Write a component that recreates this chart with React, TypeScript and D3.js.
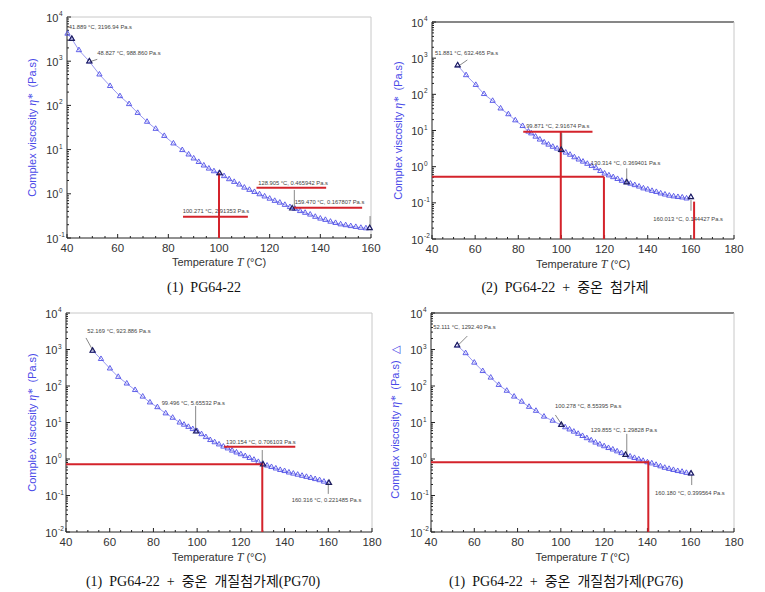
import React from 'react';
import * as d3 from 'd3';

// ---------- DATA ----------
const temps1 = [40.2, 41.9, 44.7, 48.8, 52.8, 57, 60.9, 64.5, 67.9, 71.6, 75, 78.4, 82, 85.5,
  88, 90, 92, 94, 96, 98, 100, 102, 104, 106, 108, 110, 112, 114, 116, 118, 120, 122, 124, 126, 128,
  130, 132, 134, 136, 138, 140, 142, 144, 146, 148, 150, 152, 154, 156, 158, 159.5];
const visc1 = [4200, 3197, 1778, 989, 501, 275, 162, 107, 67.6, 42.7, 29.5, 20.4, 13.8, 9.77,
  7.76, 6.31, 5.25, 4.37, 3.72, 3.24, 2.91, 2.51, 2.14, 1.86, 1.62, 1.38, 1.23, 1.10, 0.977, 0.871,
  0.776, 0.692, 0.631, 0.562, 0.501, 0.457, 0.407, 0.372, 0.339, 0.302, 0.275, 0.257, 0.234, 0.219,
  0.204, 0.195, 0.186, 0.178, 0.170, 0.166, 0.168];

const temps2 = [51.9, 55.8, 60.3, 64.1, 68.1, 71.8, 75.4, 78.6, 82, 84.7,
  86, 88, 90, 92, 94, 96, 98, 100, 102, 104, 106, 108, 110, 112, 114, 116, 118, 120, 122, 124, 126,
  128, 130, 132, 134, 136, 138, 140, 142, 144, 146, 148, 150, 152, 154, 156, 158, 160];
const visc2 = [632, 339, 182, 102, 66.1, 40.7, 28.2, 19.1, 13.3, 9.33,
  8.32, 6.76, 5.62, 4.68, 4.07, 3.55, 3.16, 2.82, 2.45, 2.14, 1.82, 1.58, 1.38, 1.20, 1.05, 0.912,
  0.759, 0.646, 0.575, 0.513, 0.457, 0.407, 0.372, 0.339, 0.309, 0.282, 0.251, 0.234, 0.214, 0.200,
  0.182, 0.170, 0.158, 0.151, 0.145, 0.141, 0.132, 0.144];

const temps3 = [52.2, 56, 60.1, 63.9, 67.8, 71.6, 75.1, 78.4, 81.8, 85.6, 88.8, 92,
  94, 96, 98, 100, 102, 104, 106, 108, 110, 112, 114, 116, 118, 120, 122, 124, 126, 128, 130, 132,
  134, 136, 138, 140, 142, 144, 146, 148, 150, 152, 154, 156, 158, 160];
const visc3 = [924, 550, 302, 178, 117, 77.6, 51.3, 35.5, 26.3, 17.8, 13.5, 10.0,
  8.71, 7.59, 6.61, 5.75, 4.79, 3.98, 3.31, 2.88, 2.51, 2.19, 1.95, 1.70, 1.51, 1.35, 1.20, 1.07,
  0.955, 0.832, 0.741, 0.661, 0.603, 0.550, 0.501, 0.468, 0.427, 0.398, 0.372, 0.347, 0.324, 0.302,
  0.282, 0.263, 0.240, 0.221];

const temps4 = [52.1, 56, 60, 63.9, 67.6, 71.3, 75, 78.4, 81.9, 85.3, 88.5, 92.2, 96.2,
  100, 102, 104, 106, 108, 110, 112, 114, 116, 118, 120, 122, 124, 126, 128, 130, 132, 134, 136,
  138, 140, 142, 144, 146, 148, 150, 152, 154, 156, 158, 160];
const visc4 = [1292, 794, 437, 257, 170, 107, 74.1, 51.3, 37.2, 26.9, 20.9, 14.5, 11.2,
  8.55, 7.41, 6.46, 5.62, 4.90, 4.27, 3.72, 3.24, 2.82, 2.51, 2.24, 2.00, 1.82, 1.62, 1.45, 1.29,
  1.17, 1.07, 0.977, 0.891, 0.813, 0.759, 0.692, 0.631, 0.575, 0.537, 0.501, 0.468, 0.447, 0.417, 0.400];

// annotated points: [T, value, label]
const ann1: [number, number, string][] = [
  [41.889, 3196.94, '41.889 °C, 3196.94 Pa.s'],
  [48.827, 988.86, '48.827 °C, 988.860 Pa.s'],
  [100.271, 2.91353, '100.271 °C, 2.91353 Pa.s'],
  [128.905, 0.465942, '128.905 °C, 0.465942 Pa.s'],
  [159.47, 0.167807, '159.470 °C, 0.167807 Pa.s'],
];
const ann2: [number, number, string][] = [
  [51.881, 632.465, '51.881 °C, 632.465 Pa.s'],
  [99.871, 2.91674, '99.871 °C, 2.91674 Pa.s'],
  [130.314, 0.369401, '130.314 °C, 0.369401 Pa.s'],
  [160.013, 0.144427, '160.013 °C, 0.144427 Pa.s'],
];
const ann3: [number, number, string][] = [
  [52.169, 923.886, '52.169 °C, 923.886 Pa.s'],
  [99.496, 5.65532, '99.496 °C, 5.65532 Pa.s'],
  [130.154, 0.706103, '130.154 °C, 0.706103 Pa.s'],
  [160.316, 0.221485, '160.316 °C, 0.221485 Pa.s'],
];
const ann4: [number, number, string][] = [
  [52.111, 1292.4, '52.111 °C, 1292.40 Pa.s'],
  [100.278, 8.55395, '100.278 °C, 8.55395 Pa.s'],
  [129.855, 1.29828, '129.855 °C, 1.29828 Pa.s'],
  [160.18, 0.399564, '160.180 °C, 0.399564 Pa.s'],
];

// red reference lines: [T1, v1, T2, v2]
const red1 = [[100, 0.1, 100, 2.91], [85.8, 0.303, 111.4, 0.303], [114.8, 1.37, 142.3, 1.37], [129.3, 0.485, 156.5, 0.485]];
const red2 = [[82.3, 9.2, 114.4, 9.2], [99.7, 0.01, 99.7, 9.2], [40, 0.528, 119.7, 0.528], [119.7, 0.01, 119.7, 0.528], [161.5, 0.01, 161.5, 0.108]];
const red3 = [[112.3, 2.17, 144.9, 2.17], [40, 0.714, 129.8, 0.714], [129.8, 0.01, 129.8, 0.8]];
const red4 = [[40, 0.81, 140.4, 0.81], [140.4, 0.01, 140.4, 0.9]];

const captions = [
  '(1)  PG64-22',
  '(2)  PG64-22  +  중온  첨가제',
  '(1)  PG64-22  +  중온  개질첨가제(PG70)',
  '(1)  PG64-22  +  중온  개질첨가제(PG76)',
];

// ---------- LAYOUT ----------
const layout = [
  {
    temps: temps1, visc: visc1, ann: ann1, red: red1, caption: captions[0],
    xDomain: [40, 160], yDomain: [0.1, 1e4], xRange: [67, 371], yRange: [238, 17], topBlack: false,
    capX: 204, capY: 292, xTitleY: 266, yTitleX: 36, extra: '',
    labels: [[-3, -10], [8, -6], [-37, 40], [-34, -23], [-75, -24]],
    leaders: [null, [0.6, 0.3, 7.9, -2.1], null, [2.1, -18.5, 2.1, -1.8], [0.4, -12, 0.4, -1]],
  },
  {
    temps: temps2, visc: visc2, ann: ann2, red: red2, caption: captions[1],
    xDomain: [40, 180], yDomain: [0.01, 1e4], xRange: [432, 734], yRange: [239, 22], topBlack: true,
    capX: 565, capY: 292, xTitleY: 268, yTitleX: 402, extra: '',
    labels: [[-22.6, -10.4], [-35, -21.4], [-36, -17], [-37.6, 23.5]],
    leaders: [[1.1, 0.6, 9.7, -5.4], [0.6, -16.6, 0.6, 1.8], [-0.1, -14, -0.1, 0.4], [0.1, 3, 0.1, 13.7]],
  },
  {
    temps: temps3, visc: visc3, ann: ann3, red: red3, caption: captions[2],
    xDomain: [40, 180], yDomain: [0.01, 1e4], xRange: [66, 372], yRange: [532, 313], topBlack: false,
    capX: 203, capY: 586, xTitleY: 561, yTitleX: 36, extra: '',
    labels: [[-5.3, -17.5], [-34.4, -26.5], [-37, -20.5], [-37.3, 19]],
    leaders: [[-6.6, -12.8, 0.4, -0.1], [-0.4, -25.5, -0.4, -1.5], [-0.8, -14.5, -0.8, -1.5], [-0.7, 0.4, -0.7, 11]],
  },
  {
    temps: temps4, visc: visc4, ann: ann4, red: red4, caption: captions[3],
    xDomain: [40, 180], yDomain: [0.01, 1e4], xRange: [431, 734], yRange: [532, 313], topBlack: true,
    capX: 566, capY: 586, xTitleY: 561, yTitleX: 399, extra: '  △',
    labels: [[-24, -16], [-6.4, -17], [-34.7, -23], [-36, 21.5]],
    leaders: [[1.1, -0.4, 10.1, -9.4], [-6.1, -10, 1.3, 1], [1.3, -21, 1.3, 0], [0.6, 1.5, 0.6, 11.5]],
  },
];

const SANS = "'Liberation Sans', Arial, Helvetica, sans-serif";
const SERIF = "'Liberation Serif', 'Times New Roman', 'Noto Sans CJK KR', serif";
const RED = '#d4232b';
const BLUE_LINE = '#9a9af2';
const BLUE_MARK = '#4f4fe6';
const TITLE_BLUE = '#4a4ae8';

function Panel({ p }: { p: any }) {
  const x = d3.scaleLinear().domain(p.xDomain).range(p.xRange);
  const y = d3.scaleLog().domain(p.yDomain).range(p.yRange);
  const [xl, xr] = p.xRange;
  const [yb, yt] = p.yRange;
  const pts: [number, number][] = p.temps.map((t: number, i: number) => [x(t), y(p.visc[i])]);
  const linePath = d3.line()(pts) || '';
  const tri = d3.symbol(d3.symbolTriangle, 12)() || '';

  const majorX = d3.range(p.xDomain[0], p.xDomain[1] + 0.01, 20);
  const minorX = d3.range(p.xDomain[0], p.xDomain[1] + 0.01, 5).filter((v: number) => v % 20 !== 0);
  const e0 = Math.round(Math.log10(p.yDomain[0]));
  const e1 = Math.round(Math.log10(p.yDomain[1]));
  const majorY = d3.range(e0, e1 + 1);
  const minorY: number[] = [];
  for (let e = e0; e < e1; e++) for (let k = 2; k <= 9; k++) minorY.push(k * Math.pow(10, e));
  const midY = (yb + yt) / 2;
  const midX = (xl + xr) / 2;

  return (
    <g>
      <line x1={xl} y1={yt} x2={xr} y2={yt} stroke={p.topBlack ? '#111' : '#c8c8c8'} strokeWidth={p.topBlack ? 1.2 : 1} />
      <line x1={xr} y1={yt} x2={xr} y2={yb} stroke="#c8c8c8" strokeWidth={1} />
      <line x1={xl} y1={yt} x2={xl} y2={yb} stroke="#222" strokeWidth={1} />
      <line x1={xl} y1={yb} x2={xr} y2={yb} stroke="#222" strokeWidth={1} />
      {majorX.map((v: number) => (
        <g key={'mx' + v}>
          <line x1={x(v)} x2={x(v)} y1={yb} y2={yb - 4} stroke="#222" />
          <text x={x(v)} y={yb + 14} fontSize={11.5} fontFamily={SANS} fill="#333" textAnchor="middle">{v}</text>
        </g>
      ))}
      {minorX.map((v: number) => (
        <line key={'nx' + v} x1={x(v)} x2={x(v)} y1={yb} y2={yb - 2} stroke="#222" />
      ))}
      {majorY.map((e: number) => {
        const yy = y(Math.pow(10, e));
        return (
          <g key={'my' + e}>
            <line x1={xl} x2={xl + 4} y1={yy} y2={yy} stroke="#222" />
            <text x={xl - 8.5} y={yy + 4.5} fontSize={11} fontFamily={SANS} fill="#333" textAnchor="end">10</text>
            <text x={xl - 8} y={yy - 1} fontSize={6.5} fontFamily={SANS} fill="#333">{String(e)}</text>
          </g>
        );
      })}
      {minorY.map((v: number) => (
        <line key={'ny' + v} x1={xl} x2={xl + 2} y1={y(v)} y2={y(v)} stroke="#222" />
      ))}
      <text x={midX} y={p.xTitleY} fontSize={11} fontFamily={SANS} fill="#333" textAnchor="middle">
        Temperature <tspan fontFamily={SERIF} fontStyle="italic" fontSize={12}>T</tspan> (°C)
      </text>
      <text transform={`translate(${p.yTitleX},${midY}) rotate(-90)`} fontSize={11} fontFamily={SANS} fill={TITLE_BLUE} textAnchor="middle" xmlSpace="preserve">
        Complex viscosity <tspan fontFamily={SERIF} fontStyle="italic" fontSize={12}>η*</tspan>  (Pa.s){p.extra}
      </text>
      <path d={linePath} fill="none" stroke={BLUE_LINE} strokeWidth={1} />
      {pts.map((q, i) => (
        <path key={'m' + i} d={tri} transform={`translate(${q[0]},${q[1]})`} fill="none" stroke={BLUE_MARK} strokeWidth={0.9} />
      ))}
      {p.red.map((r: number[], i: number) => (
        <line key={'r' + i} x1={x(r[0])} y1={y(r[1])} x2={x(r[2])} y2={y(r[3])} stroke={RED} strokeWidth={2} />
      ))}
      {p.ann.map((a: [number, number, string], i: number) => {
        const ax = x(a[0]);
        const ay = y(a[1]);
        const lb = p.labels[i];
        const ld = p.leaders[i];
        return (
          <g key={'a' + i}>
            {ld && <line x1={ax + ld[0]} y1={ay + ld[1]} x2={ax + ld[2]} y2={ay + ld[3]} stroke="#555" strokeWidth={0.7} />}
            <path d={tri} transform={`translate(${ax},${ay})`} fill="none" stroke="#1e1e5a" strokeWidth={1.1} />
            <text x={ax + lb[0]} y={ay + lb[1]} fontSize={5.8} fontFamily={SANS} fill="#444">{a[2]}</text>
          </g>
        );
      })}
      <text x={p.capX} y={p.capY} fontSize={14} fontFamily={SERIF} fill="#111" textAnchor="middle" xmlSpace="preserve">{p.caption}</text>
    </g>
  );
}

export default function App() {
  return (
    <svg width={765} height={592} viewBox="0 0 765 592" style={{ position: 'absolute', left: 0, top: 0, background: '#fff' }}>
      <rect x={0} y={0} width={765} height={592} fill="#fff" />
      {layout.map((p, i) => <Panel key={i} p={p} />)}
    </svg>
  );
}
